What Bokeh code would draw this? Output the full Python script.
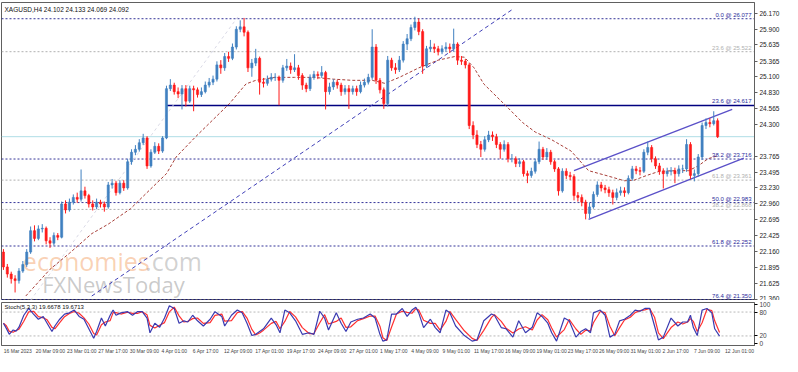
import numpy as np
from bokeh.plotting import figure
from bokeh.layouts import column
from bokeh.models import Range1d, FixedTicker, Label, Span, ColumnDataSource
from bokeh.core.properties import value
from bokeh.embed import file_html
from bokeh.resources import INLINE

# ---------------- data (XAGUSD, H4, shown as 8h candles) ----------------
first_open = 22.15
closes = [21.90, 21.78, 21.70, 21.67, 21.83, 21.94, 22.15, 22.51, 22.38, 22.54,
          22.55, 22.34, 22.30, 22.43, 22.40, 22.96, 22.86, 22.99, 23.07, 23.04,
          23.18, 23.10, 22.96, 22.91, 22.99, 22.96, 22.91, 23.28, 23.31, 23.15,
          23.31, 23.23, 23.67, 23.83, 23.88, 23.99, 24.07, 23.60, 23.83, 23.93,
          23.85, 24.07, 24.90, 24.96, 24.85, 24.81, 24.90, 24.69, 24.90, 24.88,
          24.80, 24.85, 24.96, 25.01, 25.06, 25.30, 25.25, 25.44, 25.41, 25.60,
          25.90, 25.94, 25.85, 25.25, 25.33, 25.41, 25.01, 24.99, 25.06, 25.09,
          25.09, 25.04, 25.25, 25.28, 25.22, 25.25, 25.12, 24.96, 24.90, 25.09,
          25.14, 25.12, 25.17, 24.85, 24.93, 25.01, 24.96, 24.85, 24.90, 24.85,
          24.90, 24.85, 24.96, 25.01, 25.09, 25.60, 25.04, 24.88, 24.65, 25.38,
          25.25, 25.22, 25.38, 25.65, 25.74, 25.93, 26.02, 25.86, 25.28, 25.57,
          25.60, 25.57, 25.52, 25.57, 25.60, 25.57, 25.65, 25.38, 25.36, 25.30,
          24.28, 24.12, 23.96, 23.88, 24.04, 24.12, 24.09, 23.96, 23.88, 23.96,
          23.72, 23.72, 23.64, 23.67, 23.47, 23.44, 23.51, 23.67, 23.88, 23.75,
          23.83, 23.67, 23.55, 23.18, 23.51, 23.44, 23.42, 23.10, 23.07, 22.99,
          22.80, 22.91, 23.12, 23.28, 23.23, 23.20, 23.15, 23.07, 23.15, 23.18,
          23.15, 23.39, 23.55, 23.52, 23.51, 23.83, 23.91, 23.72, 23.60, 23.51,
          23.47, 23.51, 23.52, 23.47, 23.55, 23.55, 23.96, 23.44, 23.47, 23.75,
          24.28, 24.33, 24.31, 24.36, 24.092]
highs = [22.20, 21.95, 21.82, 21.76, 21.88, 22.00, 22.20, 22.58, 22.60, 22.60,
         22.62, 22.58, 22.40, 22.48, 22.47, 23.00, 23.02, 23.05, 23.12, 23.15,
         23.54, 23.25, 23.13, 23.02, 23.05, 23.03, 23.00, 23.33, 23.38, 23.35,
         23.36, 23.36, 23.72, 23.88, 23.95, 24.05, 24.14, 24.10, 23.88, 24.00,
         23.98, 24.10, 24.95, 25.06, 25.00, 24.92, 24.96, 24.96, 24.95, 24.95,
         24.92, 24.92, 25.02, 25.08, 25.12, 25.36, 25.38, 25.50, 25.52, 25.66,
         25.95, 26.05, 26.09, 25.88, 25.40, 25.57, 25.44, 25.08, 25.12, 25.16,
         25.16, 25.12, 25.30, 25.40, 25.34, 25.48, 25.30, 25.16, 25.00, 25.14,
         25.20, 25.19, 25.28, 25.20, 25.00, 25.06, 25.05, 25.00, 24.96, 24.96,
         24.95, 24.95, 25.02, 25.07, 25.15, 25.90, 25.65, 25.08, 24.92, 25.45,
         25.42, 25.33, 25.45, 25.70, 25.82, 25.98, 26.11, 26.08, 25.90, 25.62,
         25.72, 25.66, 25.62, 25.63, 25.68, 25.66, 25.91, 25.68, 25.45, 25.40,
         25.33, 24.35, 24.20, 24.02, 24.10, 24.19, 24.18, 24.14, 24.00, 24.03,
         24.00, 23.80, 23.76, 23.73, 23.70, 23.52, 23.57, 23.72, 24.01, 23.92,
         23.90, 23.87, 23.70, 23.58, 23.56, 23.56, 23.50, 23.46, 23.16, 23.12,
         23.03, 22.98, 23.17, 23.34, 23.33, 23.28, 23.25, 23.20, 23.22, 23.25,
         23.24, 23.44, 23.60, 23.60, 23.58, 23.88, 24.01, 23.95, 23.76, 23.65,
         23.56, 23.57, 23.58, 23.57, 23.61, 23.62, 24.05, 24.00, 23.54, 23.80,
         24.33, 24.40, 24.40, 24.52, 24.40]
lows = [21.85, 21.72, 21.62, 21.47, 21.62, 21.80, 21.90, 22.12, 22.33, 22.35,
        22.48, 22.28, 22.22, 22.26, 22.35, 22.38, 22.80, 22.83, 22.95, 22.98,
        23.00, 23.05, 22.90, 22.85, 22.87, 22.90, 22.83, 22.88, 23.22, 23.10,
        23.12, 23.18, 23.20, 23.62, 23.78, 23.84, 23.95, 23.55, 23.57, 23.80,
        23.80, 23.82, 24.05, 24.86, 24.80, 24.74, 24.55, 24.60, 24.66, 24.52,
        24.75, 24.76, 24.82, 24.92, 24.96, 25.02, 25.15, 25.20, 25.35, 25.38,
        25.56, 25.85, 25.78, 25.18, 25.10, 25.28, 24.80, 24.92, 24.95, 25.02,
        25.03, 24.62, 25.00, 25.20, 25.15, 25.18, 25.05, 24.88, 24.84, 24.86,
        25.05, 25.06, 25.08, 24.55, 24.80, 24.88, 24.90, 24.78, 24.80, 24.56,
        24.80, 24.78, 24.82, 24.92, 24.97, 25.05, 24.98, 24.82, 24.56, 24.60,
        25.20, 25.15, 25.18, 25.34, 25.55, 25.70, 25.88, 25.80, 25.15, 25.25,
        25.52, 25.50, 25.46, 25.48, 25.52, 25.50, 25.52, 25.30, 25.30, 25.24,
        24.22, 24.05, 23.90, 23.75, 23.84, 24.00, 24.02, 23.90, 23.72, 23.84,
        23.66, 23.66, 23.58, 23.58, 23.42, 23.31, 23.40, 23.47, 23.63, 23.70,
        23.70, 23.62, 23.50, 23.10, 23.15, 23.38, 23.36, 23.02, 23.00, 22.92,
        22.70, 22.72, 22.88, 23.08, 23.17, 23.14, 23.08, 22.95, 23.02, 23.10,
        23.08, 23.12, 23.35, 23.46, 23.44, 23.48, 23.78, 23.66, 23.55, 23.45,
        23.22, 23.42, 23.44, 23.31, 23.42, 23.48, 23.50, 23.38, 23.34, 23.42,
        23.70, 24.22, 24.25, 24.28, 24.069]

# moving average (bar position, price)
ma_x = [5.75, 12, 17, 22.75, 27, 32.75, 37.75, 42, 44.5, 49.5, 53.25, 58.25, 62.5, 65, 70,
        75, 80, 85, 90, 95, 98.25, 102, 107, 112, 116.25, 118.75, 121.25, 123.75, 127,
        130.25, 133.75, 137, 141.25, 146.25, 150.75, 155.75, 160, 162.5, 165.75, 169,
        173.25, 176.5, 179, 181.5, 184]
ma_y = [21.41, 21.86, 22.13, 22.46, 22.62, 22.88, 23.20, 23.47, 23.75, 24.09, 24.33, 24.65,
        24.98, 25.04, 25.09, 25.09, 25.09, 25.06, 25.04, 25.04, 24.99, 25.09, 25.25, 25.38,
        25.44, 25.43, 25.25, 24.98, 24.77, 24.56, 24.33, 24.17, 24.04, 23.85, 23.52, 23.43,
        23.35, 23.36, 23.44, 23.51, 23.52, 23.52, 23.60, 23.72, 23.77]

# stochastic %K (bar position, value)
stoch_x = [0, 0.75, 1.5, 2.5, 3.25, 4, 5.25, 6.5, 7.75, 9,
           10.25, 11.25, 12.5, 13.25, 14.5, 15.75, 17, 18.25, 19.5, 20.75,
           22, 23.25, 24, 25.25, 26.25, 27.5, 28.25, 29, 30.25, 32,
           33.25, 34.5, 35.75, 37, 37.75, 39, 40.25, 41.5, 42.75, 44,
           45.25, 46.5, 47.5, 48.75, 50, 51.5, 53.25, 54.5, 56.25, 57,
           58.75, 60.25, 61.5, 62.75, 64, 65, 66, 67, 69, 70.25,
           71.25, 72.5, 73.75, 75.25, 77, 78.75, 80, 81.5, 82.75, 83.75,
           85.75, 87, 88.25, 89.5, 91.25, 92.75, 94.5, 95.75, 97, 97.75,
           98.75, 100, 101.25, 102.75, 104, 105.25, 106.25, 107, 108.25, 110,
           111.25, 112.5, 114, 115, 116.5, 118.75, 120.75, 122, 123.75, 125.75,
           126.5, 128.25, 129.5, 131.25, 132.75, 134.5, 136.25, 137.5, 138.75, 140.25,
           141.25, 142.5, 144.5, 145.75, 147.5, 148.75, 150, 151.25, 152, 153.75,
           155, 156.25, 157.5, 158.75, 160, 161.5, 162.75, 164, 165.25, 166.5,
           167.75, 168.75, 170, 172, 173.75, 175, 176.25, 177, 177.75, 178.75,
           180, 181.25, 182.5, 183.25, 184.5]
stoch_k = [52, 39, 24, 35, 32, 42, 72, 89, 75, 62,
           69, 52, 31, 45, 62, 75, 78, 85, 69, 62,
           38, 14, 31, 65, 45, 72, 85, 72, 78, 81,
           72, 81, 81, 65, 28, 52, 42, 65, 96, 89,
           52, 58, 55, 72, 58, 45, 62, 81, 69, 45,
           72, 85, 78, 52, 21, 24, 31, 38, 65, 48,
           28, 85, 78, 58, 24, 28, 24, 82, 65, 35,
           78, 52, 31, 55, 62, 65, 75, 65, 24, 7,
           10, 75, 75, 89, 69, 85, 92, 78, 41, 62,
           41, 28, 85, 78, 45, 21, 7, 10, 58, 75,
           72, 41, 38, 17, 58, 28, 42, 78, 69, 52,
           28, 7, 65, 58, 17, 31, 38, 28, 78, 85,
           72, 17, 24, 58, 62, 72, 85, 82, 89, 89,
           45, 10, 17, 65, 45, 55, 55, 72, 41, 21,
           85, 89, 78, 38, 19.7]

date_labels = ["16 Mar 2023", "20 Mar 09:00", "23 Mar 01:00", "27 Mar 17:00", "30 Mar 09:00",
               "4 Apr 01:00", "6 Apr 17:00", "12 Apr 09:00", "17 Apr 01:00", "19 Apr 17:00",
               "24 Apr 09:00", "27 Apr 01:00", "1 May 17:00", "4 May 09:00", "9 May 01:00",
               "11 May 17:00", "16 May 09:00", "19 May 01:00", "23 May 17:00", "26 May 09:00",
               "31 May 01:00", "2 Jun 17:00", "7 Jun 09:00", "12 Jun 01:00"]
bars_per_label = 8.07

price_ticks = [26.170, 25.900, 25.635, 25.365, 25.100, 24.830, 24.565, 24.300, 23.765,
               23.495, 23.230, 22.960, 22.695, 22.425, 22.160, 21.895, 21.625, 21.360]

fib_levels = [26.077, 25.522, 24.617, 23.716, 23.361, 22.983, 22.868, 22.252, 21.350]
fib_pct = ["0.0", "23.6", "23.6", "38.2", "61.8", "50.0", "38.2", "61.8", "76.4"]
fib_kind = ["navy", "gray", "solid", "navy", "gray", "navy", "gray", "navy", "navy"]
solid_level_start = 42

trend_x = [22.75, 131.5]
trend_y = [21.41, 26.25]
faint_x = [7, 60.75]
faint_y = [21.34, 26.14]
chan_up_x = [147, 187.75]
chan_up_y = [23.52, 24.55]
chan_lo_x = [150.75, 190.75]
chan_lo_y = [22.70, 23.73]

last_price = 24.092
title_text = "XAGUSD,H4  24.102 24.133 24.069 24.092"
stoch_text = "Stoch(5,3,3) 19.6678 19.6713"

# ---------------- build ----------------
FONT = "Liberation Sans"
n = len(closes)
xs = np.arange(n)
opens = [first_open] + closes[:-1]
up = [c >= o for o, c in zip(opens, closes)]
BLUE = "#4080c0"
RED = "#ff1a1a"
cols = [BLUE if u else RED for u in up]
src = ColumnDataSource(dict(
    x=xs, o=opens, c=closes, h=highs, l=lows,
    top=[max(o, c) for o, c in zip(opens, closes)],
    bot=[min(o, c) for o, c in zip(opens, closes)],
    col=cols))

XMIN, XMAX = -0.5, 193.5
xr = Range1d(XMIN, XMAX)

p = figure(width=782, height=300, x_range=xr, y_range=Range1d(21.335, 26.35),
           y_axis_location="right", x_axis_location=None,
           output_backend="svg", toolbar_location=None,
           min_border_left=1, min_border_right=25, min_border_top=2, min_border_bottom=0)
p.background_fill_color = "white"
p.outline_line_color = "#606060"
p.xgrid.visible = False
p.ygrid.visible = False

ax = p.yaxis[0]
ax.ticker = FixedTicker(ticks=price_ticks)
ax.major_label_overrides = {t: f"{t:.3f}" for t in price_ticks}
ax.major_label_text_font = FONT
ax.major_label_text_font_size = "6.5px"
ax.major_label_text_color = "#222222"
ax.major_tick_in = 0
ax.major_tick_out = 3
ax.minor_tick_out = 0
ax.minor_tick_in = 0
ax.major_label_standoff = 2
ax.axis_line_color = "#606060"
ax.major_tick_line_color = "#606060"

# watermark
p.text(x=[5.0], y=[22.0], text=["economies"], text_font=value("Open Sans"),
       text_font_size="25px", text_color="#f39a5a", text_alpha=0.45,
       text_baseline="alphabetic")
p.text(x=[36.5], y=[22.0], text=[".com"], text_font=value("Open Sans"),
       text_font_size="25px", text_color="#9a9a9a", text_alpha=0.45,
       text_baseline="alphabetic")
p.text(x=[10.0], y=[21.62], text=["FXNewsToday"], text_font=value("Open Sans"),
       text_font_size="22px", text_color="#8a8a8a", text_alpha=0.45,
       text_baseline="alphabetic")

# fib levels
for lvl, pct, kind in zip(fib_levels, fib_pct, fib_kind):
    if kind == "solid":
        p.segment(x0=[solid_level_start], y0=[lvl], x1=[XMAX], y1=[lvl],
                  line_color="#000080", line_width=1.6)
        lc = "#2a2a9a"
    elif kind == "navy":
        p.add_layout(Span(location=lvl, dimension="width", line_color="#000080",
                          line_dash="2 2", line_width=1, line_alpha=0.8, level="underlay"))
        lc = "#2a2a9a"
    else:
        p.add_layout(Span(location=lvl, dimension="width", line_color="#b0b0b0",
                          line_dash="2 2", line_width=1, level="underlay"))
        lc = "#b0b0b0"
    p.add_layout(Label(x=XMAX, y=lvl, x_offset=-3, y_offset=1, text=f"{pct} @ {lvl:.3f}",
                       text_align="right", text_baseline="bottom", text_font=FONT,
                       text_font_size="6px", text_color=lc))

# bid line
p.add_layout(Span(location=last_price, dimension="width", line_color="#b0dde6",
                  line_width=1, level="underlay"))

# trend lines
p.line(faint_x, faint_y, line_color="#dadae6", line_dash="3 3", line_width=1)
p.line(trend_x, trend_y, line_color="#4040b8", line_dash="4 3", line_width=1)
p.line(chan_up_x, chan_up_y, line_color="#5a50c8", line_width=1.3)
p.line(chan_lo_x, chan_lo_y, line_color="#5a50c8", line_width=1.3)

# moving average
p.line(ma_x, ma_y, line_color="#a8403a", line_dash="3 2", line_width=1)

# candles
p.segment(x0="x", y0="h", x1="x", y1="l", line_color="col", line_width=1, source=src)
p.vbar(x="x", width=0.55, top="top", bottom="bot", fill_color="col", line_color="col",
       line_width=0.6, source=src)

p.add_layout(Label(x=XMIN, y=26.35, x_offset=3, y_offset=-3, text=title_text,
                   text_baseline="top", text_font=FONT, text_font_size="6.5px",
                   text_color="#111111"))
p.add_layout(Label(x=XMAX, y=last_price, x_offset=1, text=f"{last_price:.3f}",
                   text_baseline="middle", text_font=FONT, text_font_size="6.5px",
                   text_color="white", background_fill_color="#000000",
                   text_font_style="bold"))

# ---------------- stochastic ----------------
s = figure(width=782, height=56, x_range=xr, y_range=Range1d(-4, 104),
           y_axis_location="right", output_backend="svg", toolbar_location=None,
           min_border_left=1, min_border_right=25, min_border_top=2, min_border_bottom=0)
s.outline_line_color = "#606060"
s.xgrid.visible = False
s.ygrid.visible = False
for lv in (20, 80):
    s.add_layout(Span(location=lv, dimension="width", line_color="#b8b8b8",
                      line_dash="2 2", line_width=1, level="underlay"))
kd = [stoch_k[0]] + [(a + b) / 2 for a, b in zip(stoch_k[:-1], stoch_k[1:])]
s.line(stoch_x, kd, line_color="#ff3030", line_width=1.2)
s.line(stoch_x, stoch_k, line_color="#3a3ab0", line_width=1.2)

sy = s.yaxis[0]
sy.ticker = FixedTicker(ticks=[0, 20, 80, 100])
sy.major_label_text_font = FONT
sy.major_label_text_font_size = "6.5px"
sy.major_tick_in = 0
sy.major_tick_out = 3
sy.minor_tick_out = 0
sy.major_label_standoff = 2
sy.axis_line_color = "#606060"

px_per_bar = (782 - 1 - 25) / (XMAX - XMIN)
centers = []
overrides = {}
for k, lab in enumerate(date_labels):
    c = round(k * bars_per_label + (len(lab) * 2.45 / 2 + 1) / px_per_bar, 3)
    centers.append(c)
    overrides[c] = lab
sx = s.xaxis[0]
sx.ticker = FixedTicker(ticks=centers)
sx.major_label_overrides = overrides
sx.major_label_text_font = FONT
sx.major_label_text_font_size = "5px"
sx.major_tick_out = 0
sx.major_tick_in = 0
sx.minor_tick_out = 0
sx.major_label_standoff = 2
sx.axis_line_color = "#606060"

s.add_layout(Label(x=XMIN, y=104, x_offset=3, y_offset=-1, text=stoch_text,
                   text_baseline="top", text_font=FONT, text_font_size="6px",
                   text_color="#111111"))

layout = column(p, s, spacing=0)
open("out.html", "w").write(file_html(layout, INLINE))
